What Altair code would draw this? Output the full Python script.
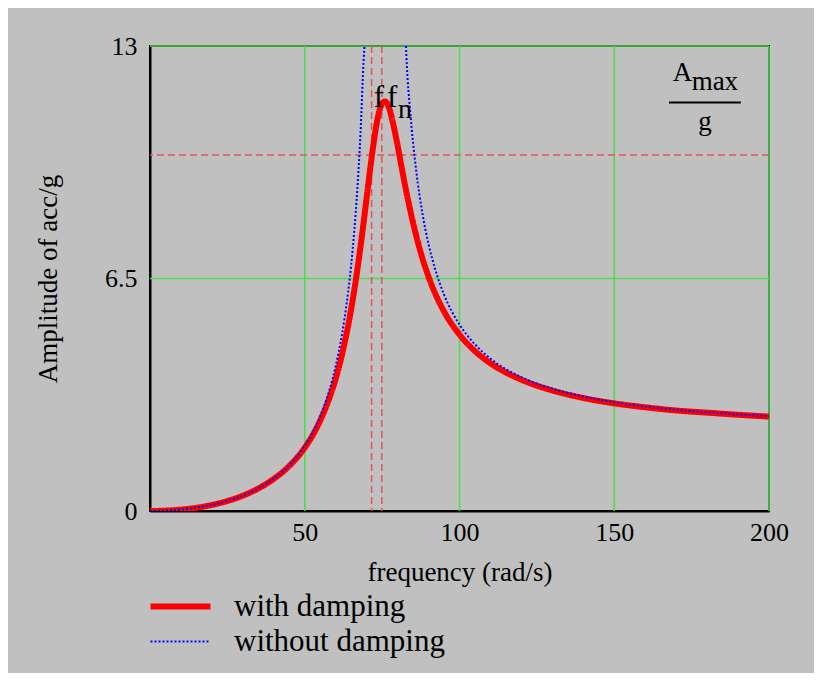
import altair as alt
import pandas as pd

# ---- data ----
freq_damped = [0, 5, 10, 15, 20, 25, 30, 35, 40, 45, 50, 55, 58, 60, 62, 63, 64, 65, 66, 67,
               68, 69, 70, 71, 72, 73, 74, 75, 76, 77, 78, 79, 80, 81, 82, 83, 84, 86, 88,
               90, 92, 95, 100, 105, 110, 120, 130, 140, 150, 160, 170, 180, 190, 200]
amp_damped = [0.0, 0.01, 0.04, 0.09, 0.17, 0.28, 0.43, 0.63, 0.90, 1.26, 1.77, 2.53, 3.17, 3.70,
              4.36, 4.75, 5.17, 5.65, 6.17, 6.75, 7.38, 8.05, 8.76, 9.46, 10.13, 10.71, 11.15,
              11.40, 11.45, 11.32, 11.04, 10.65, 10.22, 9.75, 9.29, 8.85, 8.44, 7.70, 7.07,
              6.55, 6.11, 5.58, 4.93, 4.47, 4.13, 3.67, 3.37, 3.16, 3.01, 2.90, 2.81, 2.75,
              2.69, 2.64]

freq_undamped_low = [0, 5, 10, 15, 20, 25, 30, 35, 40, 45, 50, 55, 58, 60, 62, 64, 65, 66, 67,
                     68, 69, 69.3]
amp_undamped_low = [0.0, 0.01, 0.04, 0.10, 0.17, 0.29, 0.43, 0.63, 0.91, 1.28, 1.82, 2.65, 3.39,
                    4.05, 4.92, 6.11, 6.88, 7.83, 9.01, 10.53, 12.56, 13.0]
freq_undamped_high = [82.7, 83, 84, 86, 88, 90, 92, 95, 100, 105, 110, 120, 130, 140, 150, 160,
                      170, 180, 190, 200]
amp_undamped_high = [13.0, 12.43, 11.24, 9.52, 8.33, 7.46, 6.80, 6.05, 5.21, 4.66, 4.26, 3.74,
                     3.42, 3.20, 3.04, 2.92, 2.83, 2.76, 2.70, 2.65]

series_names = ["with damping", "without damping"]
x_ticks = [50, 100, 150, 200]
y_ticks = [0, 6.5, 13]
x_grid = [50, 100, 150, 200]
y_grid = [6.5, 13]
f_lines = [71.6, 74.9]          # f and f_n
amax_line = [9.95]              # A_max / g

label_text = ["f", "f", "n", "A", "max", "g"]
label_f = [72.3, 76.6, 80.1, 168.9, 175.0, 179.3]
label_a = [11.30, 11.30, 11.00, 12.03, 11.77, 10.65]
label_size = [31, 31, 28, 27, 27, 27]
label_align = ["left", "left", "left", "left", "left", "center"]
frac_f = [167.7]
frac_f2 = [190.9]
frac_a = [11.42]

# ---- tables ----
rows = []
for f, a in zip(freq_damped, amp_damped):
    rows.append({"f": f, "A": a, "series": series_names[0], "seg": "d"})
for f, a in zip(freq_undamped_low, amp_undamped_low):
    rows.append({"f": f, "A": a, "series": series_names[1], "seg": "u1"})
for f, a in zip(freq_undamped_high, amp_undamped_high):
    rows.append({"f": f, "A": a, "series": series_names[1], "seg": "u2"})
curves = pd.DataFrame(rows)

labels = pd.DataFrame({"f": label_f, "A": label_a, "text": label_text,
                       "size": label_size, "align": label_align})

FONT = "Liberation Serif"
GREEN = "#4cdc4c"
DASHRED = "#e05555"

xs = alt.Scale(domain=[0, 200], nice=False, zero=False)
ys = alt.Scale(domain=[0, 13], nice=False, zero=False)

x_axis = alt.Axis(values=x_ticks, title="frequency (rad/s)", grid=False, ticks=False,
                  labelFont=FONT, labelFontSize=26, labelColor="black", labelPadding=8,
                  labelFlush=False, labelOverlap=False,
                  titleFont=FONT, titleFontSize=27, titleFontWeight="normal",
                  titleColor="black", titlePadding=14, domainColor="black", domainWidth=2)
y_axis = alt.Axis(values=y_ticks, title="Amplitude of acc/g", grid=False, ticks=False,
                  labelFont=FONT, labelFontSize=26, labelColor="black", labelPadding=13,
                  labelFlush=False, labelOverlap=False,
                  labelExpr="datum.value + ''", titleFont=FONT, titleFontSize=27,
                  titleFontWeight="normal", titleColor="black", titlePadding=42,
                  domainColor="black", domainWidth=2)

X = alt.X("f:Q", scale=xs, axis=x_axis, title="frequency (rad/s)")
Y = alt.Y("A:Q", scale=ys, axis=y_axis, title="Amplitude of acc/g")

legend = alt.Legend(title=None, orient="none", legendX=15, legendY=545,
                    symbolType="M-6,0H6", symbolSize=100, labelFont=FONT,
                    labelFontSize=31, labelOffset=38, rowPadding=3, padding=0,
                    labelLimit=0, labelColor="black")

grid_v = alt.Chart(pd.DataFrame({"f": x_grid})).mark_rule(
    color=GREEN, strokeWidth=1.6).encode(x=X)
grid_h = alt.Chart(pd.DataFrame({"A": y_grid})).mark_rule(
    color=GREEN, strokeWidth=1.6).encode(y=Y)

dash_v = alt.Chart(pd.DataFrame({"f": f_lines})).mark_rule(
    color=DASHRED, strokeWidth=1.5, strokeDash=[7, 4]).encode(x=X)
dash_h = alt.Chart(pd.DataFrame({"A": amax_line})).mark_rule(
    color=DASHRED, strokeWidth=1.5, strokeDash=[7, 4]).encode(y=Y)

lines = alt.Chart(curves).mark_line(clip=True, interpolate="monotone").encode(
    x=X,
    y=Y,
    color=alt.Color("series:N", scale=alt.Scale(domain=series_names,
                                                range=["#ff0000", "#0000ff"]),
                    legend=legend),
    strokeDash=alt.StrokeDash("series:N", scale=alt.Scale(domain=series_names,
                                                          range=[[1, 0], [2, 2]]),
                              legend=legend),
    strokeWidth=alt.StrokeWidth("series:N", scale=alt.Scale(domain=series_names,
                                                            range=[6, 2]),
                                legend=legend),
    detail="seg:N",
    order="f:Q",
)

base_text = alt.Chart(labels).encode(
    x=X, y=Y, text="text:N",
    size=alt.Size("size:Q", scale=None, legend=None),
)
texts_left = base_text.transform_filter("datum.align == 'left'").mark_text(
    font=FONT, color="black", baseline="alphabetic", align="left")
texts_center = base_text.transform_filter("datum.align == 'center'").mark_text(
    font=FONT, color="black", baseline="alphabetic", align="center")

frac = alt.Chart(pd.DataFrame({"f": frac_f, "f2": frac_f2, "A": frac_a})).mark_rule(
    color="black", strokeWidth=1.8).encode(x=X, x2="f2:Q", y=Y)

chart = alt.layer(grid_v, grid_h, dash_v, dash_h, lines, texts_left, texts_center, frac).properties(
    width=619, height=465,
    autosize=alt.AutoSizeParams(type="none"),
    padding={"left": 142, "top": 38, "right": 45, "bottom": 162},
    background="#c0c0c0",
).configure_view(stroke="black", strokeWidth=2)

chart.save("out.html", embed_options={"renderer": "svg", "actions": False})
